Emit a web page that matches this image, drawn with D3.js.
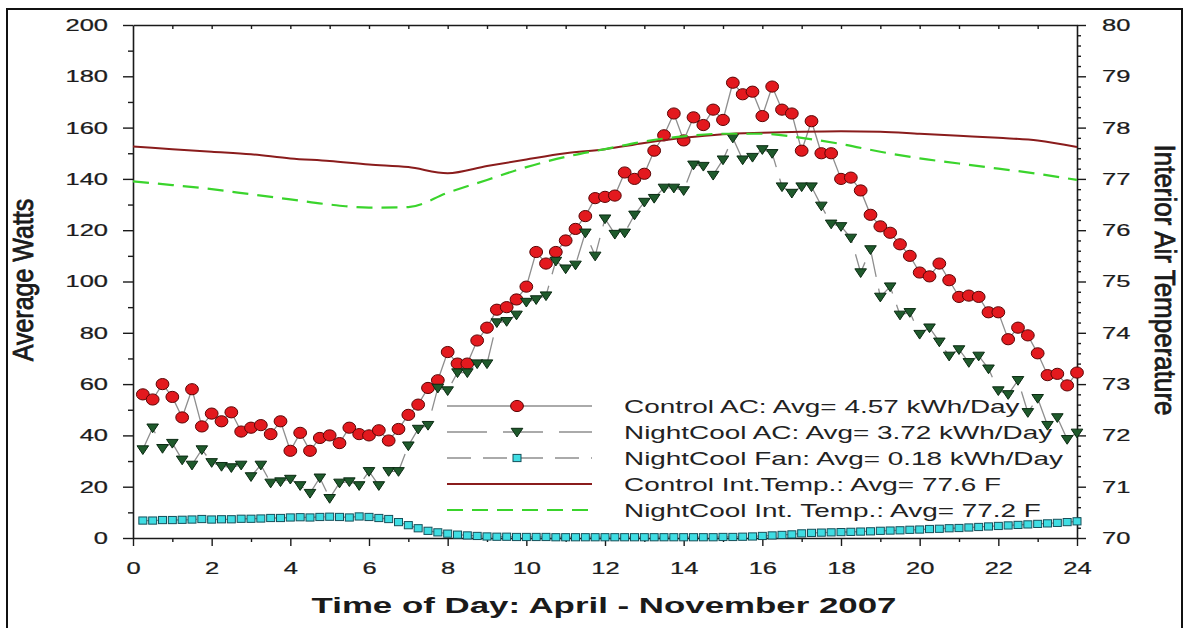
<!DOCTYPE html>
<html><head><meta charset="utf-8">
<script src="https://cdn.jsdelivr.net/npm/d3@7"></script>
<style>html,body{margin:0;padding:0;background:#fff;} svg{display:block;}</style>
</head><body><svg id="c" width="1192" height="628"></svg>
<script>
// ---- data ----
const times = d3.range(1, 97).map(i => i / 4); // 15-minute bins, 0.25 .. 24 h

const controlAC = [
  56, 54, 60, 55, 47, 58, 43.5, 48.5, 45.5, 49, 41.5, 43, 44, 40.5, 45.5, 34,
  41, 34, 39, 40, 37, 43, 40.5, 40, 42, 38, 42.5, 48, 52, 58.5, 61.5, 72.5,
  68, 68, 77, 82, 89, 90, 93, 98, 111.5, 107, 111.5, 116, 120.5, 125.5, 132.5, 133,
  133.5, 142.5, 140, 142, 151, 157, 165.5, 155, 164, 161, 167, 163, 177.5, 173, 174, 164.5,
  176, 167, 165.5, 151, 162.5, 150, 150, 140, 140.5, 135.5, 126, 121.5, 119, 114.5, 110, 103.5,
  102, 107, 100.5, 94, 94.5, 94, 88, 88, 77.5, 82, 79, 72, 63.5, 64, 59.5, 64.5
];

const nightCoolAC = [
  34.5, 43, 35, 37, 30.5, 28.5, 34.5, 29.5, 28, 27.5, 28.5, 24, 28.5, 21.5, 22, 23,
  20.5, 17.5, 23.5, 15.5, 21.5, 22, 20.5, 26, 20.5, 26, 26, 36, 42.5, 44, 58.5, 57.5,
  64.5, 64.5, 68, 68, 84, 84.5, 87, 92, 93, 94.5, 108, 105, 106.5, 119, 110, 124.5,
  118.5, 119, 126, 131, 132.5, 136.5, 136.5, 135.5, 145.5, 145, 141.5, 147.5, 156, 147.5, 148.5, 151.5,
  150, 137, 134.5, 137, 137, 129.5, 122.5, 121.5, 117, 103.5, 112.5, 94, 98, 87, 88, 79.5,
  82, 76.5, 71, 73.5, 68.5, 71, 66, 57.5, 56, 61.5, 49, 54.5, 44, 47, 38.5, 41
];

const nightCoolFan = [
  6.8, 6.8, 7.0, 7.0, 7.1, 7.2, 7.4, 7.2, 7.3, 7.3, 7.5, 7.5, 7.6, 7.8, 7.8, 8.0,
  8.1, 8.0, 8.2, 8.3, 8.2, 8.0, 8.4, 8.2, 7.8, 7.4, 6.2, 5.0, 3.8, 2.8, 2.2, 1.7,
  1.3, 1.0, 0.8, 0.6, 0.5, 0.5, 0.4, 0.4, 0.4, 0.4, 0.3, 0.3, 0.3, 0.3, 0.3, 0.3,
  0.3, 0.3, 0.3, 0.3, 0.3, 0.3, 0.3, 0.3, 0.3, 0.3, 0.3, 0.4, 0.4, 0.5, 0.6, 0.8,
  1.0, 1.2, 1.4, 1.8, 2.0, 2.1, 2.2, 2.3, 2.4, 2.5, 2.6, 2.8, 2.9, 3.0, 3.2, 3.3,
  3.5, 3.6, 3.8, 3.9, 4.1, 4.3, 4.5, 4.7, 4.9, 5.1, 5.3, 5.5, 5.7, 5.9, 6.2, 6.5
];

const tempHours = [0,1,2,3,4,5,6,7,8,9,10,11,12,13,14,15,16,17,18,19,20,21,22,23,24];
const controlTemp = [77.63, 77.58, 77.53, 77.48, 77.40, 77.35, 77.28, 77.23, 77.11, 77.25, 77.38, 77.50,
  77.58, 77.70, 77.80, 77.87, 77.90, 77.92, 77.93, 77.92, 77.88, 77.84, 77.80, 77.75, 77.62];
const nightCoolTemp = [76.95, 76.88, 76.80, 76.70, 76.60, 76.50, 76.44, 76.45, 76.73, 76.98, 77.23, 77.43,
  77.58, 77.73, 77.83, 77.88, 77.88, 77.80, 77.68, 77.53, 77.40, 77.30, 77.20, 77.10, 76.98];

const xTickValues = [0,2,4,6,8,10,12,14,16,18,20,22,24];
const yTickValues = [0,20,40,60,80,100,120,140,160,180,200];
const yRTickValues = [70,71,72,73,74,75,76,77,78,79,80];
const legendLabels = [
  "Control AC: Avg= 4.57 kWh/Day",
  "NightCool AC: Avg= 3.72 kWh/Day",
  "NightCool Fan: Avg= 0.18 kWh/Day",
  "Control Int.Temp.: Avg= 77.6 F",
  "NightCool Int. Temp.: Avg= 77.2 F"
];

// ---- layout ----
const svg = d3.select("#c");
const L = 133, R = 1077, T = 25, B = 538;
const x = d3.scaleLinear().domain([0, 24]).range([L, R]);
const y = d3.scaleLinear().domain([0, 200]).range([B, T]);
const yR = d3.scaleLinear().domain([70, 80]).range([B, T]);
const SX = 1.5;
const FONT = "'Liberation Sans', Arial, Helvetica, sans-serif";
const AX = "#1a1a1a";

const RED = "#e3191e", RED_S = "#5a0505";
const GRN = "#1f5a2c", GRN_S = "#0a2a12";
const CYN = "#3fdde3", CYN_S = "#15505a";
const GRAY = "#8e8e8e";
const TEMP_RED = "#8a1c1c";
const TEMP_GRN = "#3ad42c";

// frame
svg.append("rect").attr("x", 7).attr("y", 9).attr("width", 1175).attr("height", 680)
  .attr("fill", "none").attr("stroke", "#111").attr("stroke-width", 2);

function styleAxis(g) {
  g.selectAll("path.domain").attr("stroke", AX).attr("stroke-width", 1.6);
  g.selectAll(".tick line").attr("stroke", AX).attr("stroke-width", 1.4);
}
function styleText(g, xOff) {
  g.selectAll("text").attr("font-family", FONT).attr("font-size", 17).attr("fill", "#1c1c1c")
    .attr("stroke", "#1c1c1c").attr("stroke-width", 0.25)
    .attr("transform", `scale(${SX},1)`);
  if (xOff !== undefined) g.selectAll("text").attr("x", xOff / SX);
}

// left axis
const gL = svg.append("g").attr("transform", `translate(${L},0)`)
  .call(d3.axisLeft(y).tickValues(yTickValues).tickSize(10).tickSizeOuter(0).tickPadding(15).tickFormat(d3.format("d")));
styleAxis(gL); styleText(gL, -25);
const gLm = svg.append("g").attr("transform", `translate(${L},0)`)
  .call(d3.axisLeft(y).tickValues(d3.range(10, 200, 20)).tickSize(5).tickFormat(""));
gLm.select(".domain").remove(); styleAxis(gLm);

// right axis
const gR = svg.append("g").attr("transform", `translate(${R},0)`)
  .call(d3.axisRight(yR).tickValues(yRTickValues).tickSize(9).tickSizeOuter(0).tickPadding(16).tickFormat(d3.format("d")));
styleAxis(gR); styleText(gR, 25);
const gRm = svg.append("g").attr("transform", `translate(${R},0)`)
  .call(d3.axisRight(yR).tickValues(d3.range(70, 80, 0.2).filter(v => Math.abs(v - Math.round(v)) > 0.01)).tickSize(4).tickFormat(""));
gRm.select(".domain").remove(); styleAxis(gRm);

// bottom axis
const gB = svg.append("g").attr("transform", `translate(0,${B})`)
  .call(d3.axisBottom(x).tickValues(xTickValues).tickSize(8).tickSizeOuter(0).tickPadding(16).tickFormat(d3.format("d")));
styleAxis(gB); styleText(gB);
const gBm = svg.append("g").attr("transform", `translate(0,${B})`)
  .call(d3.axisBottom(x).tickValues(d3.range(1, 24, 2)).tickSize(4).tickFormat(""));
gBm.select(".domain").remove(); styleAxis(gBm);

// top axis (frame line with inward ticks)
const gT = svg.append("g").attr("transform", `translate(0,${T})`)
  .call(d3.axisTop(x).tickValues(d3.range(1, 24, 1)).tickSize(-4).tickSizeOuter(0).tickFormat(""));
styleAxis(gT);

// ---- series ----
const plot = svg.append("g");
const lineOf = (arr) => d3.line().x((d, i) => x(times[i])).y(d => y(d))(arr);

const triPath = "M-5.8,-3.7L5.8,-3.7L0,5Z";

// Control AC
plot.append("path").attr("d", lineOf(controlAC)).attr("fill", "none")
  .attr("stroke", GRAY).attr("stroke-width", 1.3);
plot.append("g").selectAll("ellipse").data(controlAC).join("ellipse")
  .attr("cx", (d, i) => x(times[i])).attr("cy", d => y(d))
  .attr("rx", 6.4).attr("ry", 5.6).attr("fill", RED).attr("stroke", RED_S).attr("stroke-width", 1);

// NightCool AC
plot.append("path").attr("d", lineOf(nightCoolAC)).attr("fill", "none")
  .attr("stroke", GRAY).attr("stroke-width", 1.3).attr("stroke-dasharray", "30,12");
plot.append("g").selectAll("path").data(nightCoolAC).join("path")
  .attr("transform", (d, i) => `translate(${x(times[i])},${y(d)})`)
  .attr("d", triPath).attr("fill", GRN).attr("stroke", GRN_S).attr("stroke-width", 1);

// NightCool Fan
plot.append("path").attr("d", lineOf(nightCoolFan)).attr("fill", "none")
  .attr("stroke", GRAY).attr("stroke-width", 1.3).attr("stroke-dasharray", "22,10");
plot.append("g").selectAll("rect").data(nightCoolFan).join("rect")
  .attr("x", (d, i) => x(times[i]) - 4).attr("y", d => y(d) - 3.6)
  .attr("width", 8).attr("height", 7.2).attr("fill", CYN).attr("stroke", CYN_S).attr("stroke-width", 1);

// Temperatures (right axis)
const tLine = d3.line().x((d, i) => x(tempHours[i])).y(d => yR(d)).curve(d3.curveMonotoneX);
plot.append("path").attr("d", tLine(controlTemp)).attr("fill", "none")
  .attr("stroke", TEMP_RED).attr("stroke-width", 2);
plot.append("path").attr("d", tLine(nightCoolTemp)).attr("fill", "none")
  .attr("stroke", TEMP_GRN).attr("stroke-width", 2.2).attr("stroke-dasharray", "16,9");

// ---- legend ----
const lg = svg.append("g");
const lx0 = 447, lx1 = 592, lmx = 517, ltx = 624, ly0 = 406, ldy = 26;
legendLabels.forEach((lab, i) => {
  const yy = ly0 + i * ldy;
  const ln = lg.append("line").attr("x1", lx0).attr("x2", lx1).attr("y1", yy).attr("y2", yy);
  if (i === 0) ln.attr("stroke", GRAY).attr("stroke-width", 1.3);
  if (i === 1) ln.attr("stroke", GRAY).attr("stroke-width", 1.3).attr("stroke-dasharray", "40,16");
  if (i === 2) ln.attr("stroke", GRAY).attr("stroke-width", 1.3).attr("stroke-dasharray", "24,12");
  if (i === 3) ln.attr("stroke", TEMP_RED).attr("stroke-width", 2);
  if (i === 4) ln.attr("stroke", TEMP_GRN).attr("stroke-width", 2.2).attr("stroke-dasharray", "16,9");
  if (i === 0) lg.append("ellipse").attr("cx", lmx).attr("cy", yy).attr("rx", 6.4).attr("ry", 5.6)
    .attr("fill", RED).attr("stroke", RED_S);
  if (i === 1) lg.append("path").attr("transform", `translate(${lmx},${yy})`).attr("d", triPath)
    .attr("fill", GRN).attr("stroke", GRN_S);
  if (i === 2) lg.append("rect").attr("x", lmx - 4).attr("y", yy - 3.6).attr("width", 8).attr("height", 7.2)
    .attr("fill", CYN).attr("stroke", CYN_S);
  lg.append("text").attr("transform", `translate(${ltx},${yy + 6.5}) scale(1.55,1)`)
    .attr("font-family", FONT).attr("font-size", 18).attr("fill", "#222").text(lab);
});

// ---- titles ----
svg.append("text").attr("transform", `translate(604,613) scale(1.55,1)`)
  .attr("text-anchor", "middle").attr("font-family", FONT).attr("font-weight", "bold")
  .attr("font-size", 22.5).attr("fill", "#1a1a1a").text("Time of Day: April - November 2007");
svg.append("text").attr("transform", `translate(33,280) scale(1.2,1) rotate(-90)`)
  .attr("text-anchor", "middle").attr("font-family", FONT).attr("font-size", 25)
  .attr("fill", "#1a1a1a").attr("stroke", "#1a1a1a").attr("stroke-width", 0.7).text("Average Watts");
svg.append("text").attr("transform", `translate(1155,280) scale(1.15,1) rotate(90)`)
  .attr("text-anchor", "middle").attr("font-family", FONT).attr("font-size", 26)
  .attr("fill", "#1a1a1a").attr("stroke", "#1a1a1a").attr("stroke-width", 0.7).text("Interior Air Temperature");
</script>
</body></html>
